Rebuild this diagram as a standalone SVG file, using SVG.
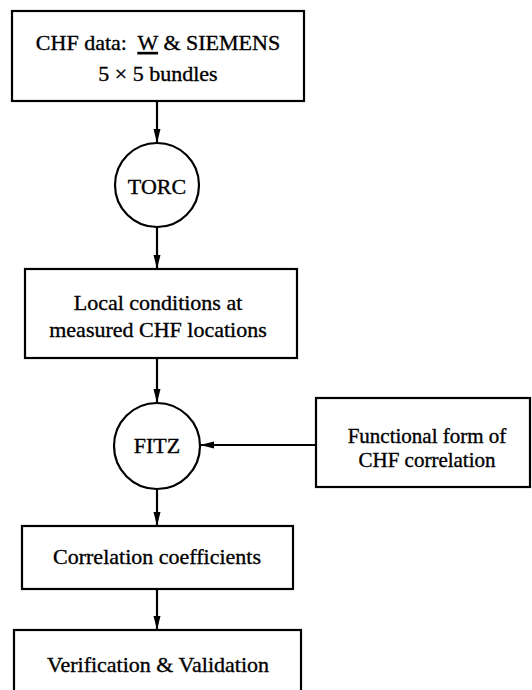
<svg xmlns="http://www.w3.org/2000/svg" width="532" height="690" viewBox="0 0 532 690">
<style>
.box{fill:#fff;stroke:#000;stroke-width:2.2}
.t{font-family:"Liberation Serif","Times New Roman",serif;font-size:22px;fill:#000;stroke:#000;stroke-width:0.35;text-anchor:middle}
.s{font-size:21px}
.c{fill:none;stroke:#000;stroke-width:2.2}
.e{fill:none;stroke:#000;stroke-width:2.2}
</style>
<defs>
<marker id="ah" markerUnits="userSpaceOnUse" markerWidth="14" markerHeight="10" refX="14" refY="5" orient="auto">
<path d="M0,1.5 L14,5 L0,8.5 Z" fill="#000"/>
</marker>
</defs>
<rect width="532" height="690" fill="#fff"/>
<g id="edges">
<line class="e" x1="157" y1="101" x2="157" y2="143" marker-end="url(#ah)"/>
<line class="e" x1="157" y1="227" x2="157" y2="269" marker-end="url(#ah)"/>
<line class="e" x1="157" y1="358" x2="157" y2="403" marker-end="url(#ah)"/>
<line class="e" x1="316" y1="445" x2="200" y2="445" marker-end="url(#ah)"/>
<line class="e" x1="157" y1="489" x2="157" y2="526" marker-end="url(#ah)"/>
<line class="e" x1="157" y1="589" x2="157" y2="630" marker-end="url(#ah)"/>
</g>
<g id="chf-data">
<rect class="box" x="12" y="11" width="292" height="90"/>
<text class="t" x="158" y="50" xml:space="preserve">CHF data:  <tspan text-decoration="underline">W</tspan> &amp; SIEMENS</text>
<text class="t" x="158" y="81">5 × 5 bundles</text>
</g>
<g id="torc">
<circle class="c" cx="157" cy="185" r="42"/>
<text class="t" x="157" y="194">TORC</text>
</g>
<g id="local-conditions">
<rect class="box" x="25" y="269" width="272" height="89"/>
<text class="t" x="158" y="310">Local conditions at</text>
<text class="t" x="158" y="337">measured CHF locations</text>
</g>
<g id="fitz">
<circle class="c" cx="157" cy="446" r="43"/>
<text class="t" x="157" y="453">FITZ</text>
</g>
<g id="functional-form">
<rect class="box" x="316" y="398" width="214" height="89"/>
<text class="t s" x="427" y="443">Functional form of</text>
<text class="t s" x="427" y="467">CHF correlation</text>
</g>
<g id="correlation-coefficients">
<rect class="box" x="22" y="526" width="271" height="63"/>
<text class="t" x="157" y="564">Correlation coefficients</text>
</g>
<g id="verification">
<rect class="box" x="14" y="630" width="287" height="70"/>
<text class="t" x="158" y="672">Verification &amp; Validation</text>
</g>
</svg>
